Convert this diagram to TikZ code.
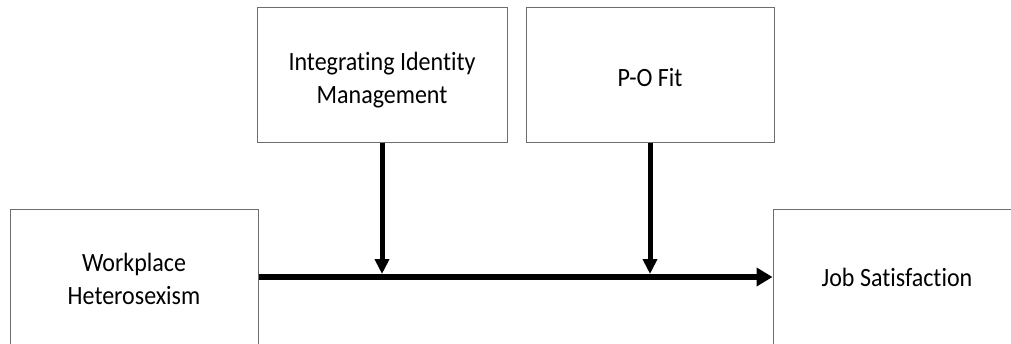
\documentclass[tikz,border=0pt]{standalone}
\usepackage{fontspec}
\setmainfont{Carlito}[Ligatures={NoCommon}, Contextuals={NoAlternate}]
\usetikzlibrary{arrows.meta}
\definecolor{boxgray}{HTML}{6E6E6E}
\newcommand{\vtext}[1]{\scalebox{1}[1.1]{\begin{tabular}{@{}c@{}}#1\end{tabular}}}
\tikzset{
  varbox/.style={draw=boxgray, line width=1pt, fill=white, minimum width=248pt, minimum height=135pt, inner sep=0pt},
  vartext/.style={inner sep=0pt, font=\fontsize{24}{30.3}\selectfont, text=black},
  modarrow/.style={line width=5pt, -{Triangle[width=14pt,length=15pt]}, shorten >=3pt},
  mainarrow/.style={line width=6pt, -{Triangle[width=18pt,length=16pt]}}
}
\begin{document}
\begin{tikzpicture}[x=1pt,y=-1pt]
\useasboundingbox (0,0) rectangle (1011,343);
\node[varbox, minimum height=140pt] (wh) at (134,279) {};
\node[varbox, minimum width=250pt] (iim) at (382,74.5) {};
\node[varbox] (po) at (650,74.5) {};
\node[varbox, minimum height=140pt] (js) at (897,279) {};
\node[vartext] (wht) at (134,281) {\vtext{Workplace\\Heterosexism}};
\node[vartext] (iimt) at (382,80.5) {\vtext{Integrating Identity\\Management}};
\node[vartext] (pot) at (650,80) {\vtext{P-O Fit}};
\node[vartext] (jst) at (897,279.5) {\vtext{Job Satisfaction}};
\coordinate (m) at (0,277);
\draw[mainarrow] (wh.east |- m) -- (js.west |- m);
\draw[modarrow] (iim.south) -- (iim.south |- m);
\draw[modarrow] (po.south) -- (po.south |- m);
\end{tikzpicture}
\end{document}
